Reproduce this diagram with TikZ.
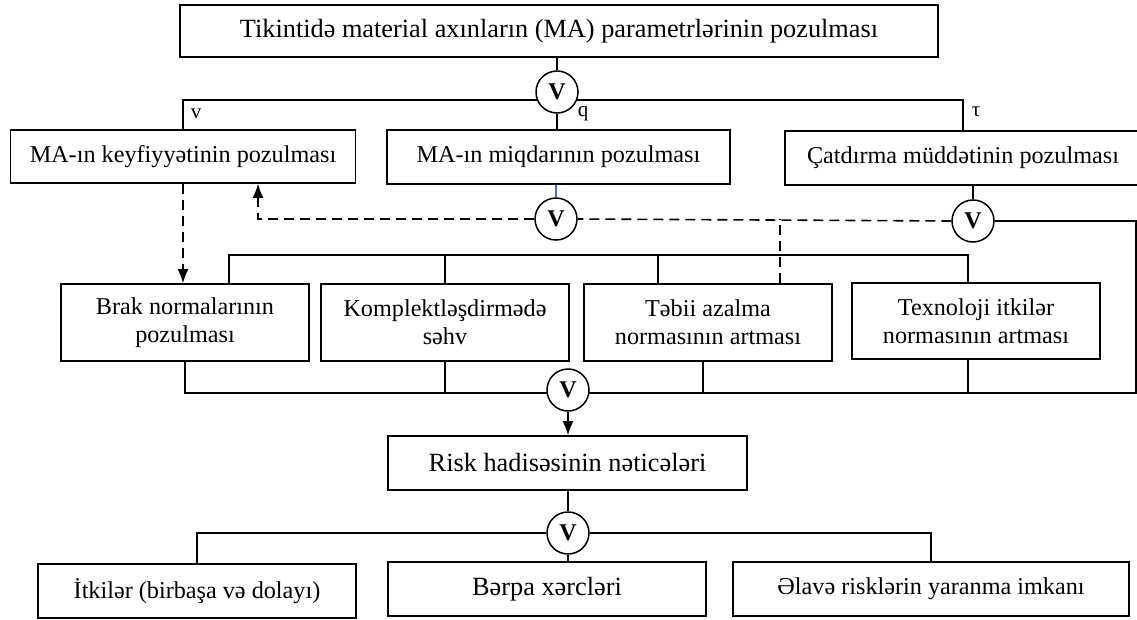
\documentclass[tikz,border=0pt]{standalone}
\usepackage{fontspec}
\setmainfont{Liberation Serif}
\usetikzlibrary{arrows.meta,backgrounds}
\definecolor{linkblue}{RGB}{68,114,196}

\begin{document}
\begin{tikzpicture}[
    x=1pt, y=-1pt,
    box/.style={draw, line width=1.6pt, fill=white, inner sep=0pt, align=center, font=\fontsize{24.2}{28}\selectfont},
    bigbox/.style={box, font=\fontsize{26.3}{30}\selectfont},
    orgate/.style={draw, circle, line width=1.5pt, fill=white, minimum size=42pt, inner sep=0pt, font=\bfseries\fontsize{24}{24}\selectfont},
    lbl/.style={inner sep=0pt, font=\fontsize{21}{21}\selectfont},
    line/.style={line width=1.6pt},
    arr/.style={line width=1.6pt, -{Latex[length=14pt,width=11pt]}},
    dline/.style={line width=1.6pt, dash pattern=on 10pt off 6pt},
    bline/.style={line width=1.6pt, draw=linkblue}
]
    \useasboundingbox (0,0) rectangle (1137,620);

    \node[bigbox, minimum width=758, minimum height=52] (main)  at (559,31)    {Tikintidə material axınların (MA) parametrlərinin pozulması};
    \node[orgate]                                       (or1)   at (557,92)    {V};

    \node[box, minimum width=345, minimum height=53] (qual)  at (183,156.5) {MA-ın keyfiyyətinin pozulması};
    \node[box, minimum width=343, minimum height=54] (quant) at (558.5,157) {MA-ın miqdarının pozulması};
    \node[box, minimum width=356, minimum height=54] (dlvr)  at (963,158)   {Çatdırma müddətinin pozulması};

    \node[lbl] (lv)   at (196,114) {v};
    \node[lbl] (lq)   at (583,114) {q};
    \node[lbl] (ltau) at (976,112) {τ};

    \node[orgate] (or2) at (556,219) {V};
    \node[orgate] (or3) at (973,221) {V};

    \node[box, minimum width=248, minimum height=77] (brak)  at (185,322.5) {Brak normalarının\\pozulması};
    \node[box, minimum width=248, minimum height=77] (kompl) at (445,322.5) {Komplektləşdirmədə\\səhv};
    \node[box, minimum width=248, minimum height=77] (tebii) at (708,322.5) {Təbii azalma\\normasının artması};
    \node[box, minimum width=248, minimum height=76] (texn)  at (976,321)   {Texnoloji itkilər\\normasının artması};

    \node[orgate]                                       (or4)   at (568,390)   {V};
    \node[bigbox, minimum width=359, minimum height=54] (risk)  at (567.5,463) {Risk hadisəsinin nəticələri};
    \node[orgate]                                       (or5)   at (568,533)   {V};

    \node[box, minimum width=318, minimum height=54]    (itk)   at (197,591)   {İtkilər (birbaşa və dolayı)};
    \node[bigbox, minimum width=318, minimum height=54] (berpa) at (547,589)   {Bərpa xərcləri};
    \node[box, minimum width=396, minimum height=54]    (elave) at (931,589)   {Əlavə risklərin yaranma imkanı};

    \coordinate (br1)  at (557,100);
    \coordinate (bus2) at (445,255);
    \coordinate (re)   at (1136,393);

    \begin{scope}[on background layer]
        \draw[line] (main.south -| or1) -- (or1);
        \draw[line] (qual.north) |- (br1) -| (dlvr.north);
        \draw[line] (or1) -- (or1 |- quant.north);
        \draw[line] (or3.east) -| (re) -| (brak.south);
        \draw[line] (itk.north) |- (or5) -| (elave.north);
    \end{scope}

    \draw[bline] (quant.south -| or2) -- (or2.north);
    \draw[line]  (dlvr.south -| or3) -- (or3.north);

    \draw[dline]      (or3.west) -- (or2.east);
    \draw[dline, arr] (or2.west) -| ([xshift=75]qual.south);
    \draw[dline, arr] (qual.south) -- (qual.south |- brak.north);
    \draw[dline]      ([xshift=72]tebii.north) -- ([xshift=72]tebii.north |- or2);

    \draw[line] ([xshift=44]brak.north) |- (bus2) -| ([xshift=-8]texn.north);
    \draw[line] (kompl.north) -- (kompl.north |- bus2);
    \draw[line] ([xshift=-50]tebii.north) -- ([xshift=-50]tebii.north |- bus2);

    \draw[line] (kompl.south) -- (kompl.south |- re);
    \draw[line] ([xshift=-5]tebii.south) -- ([xshift=-5]tebii.south |- re);
    \draw[line] ([xshift=-8]texn.south) -- ([xshift=-8]texn.south |- re);

    \draw[arr]  (or4) -- (or4 |- risk.north);
    \draw[line] (risk.south -| or5) -- (or5);
    \draw[line] (or5) -- (or5 |- berpa.north);
\end{tikzpicture}
\end{document}
